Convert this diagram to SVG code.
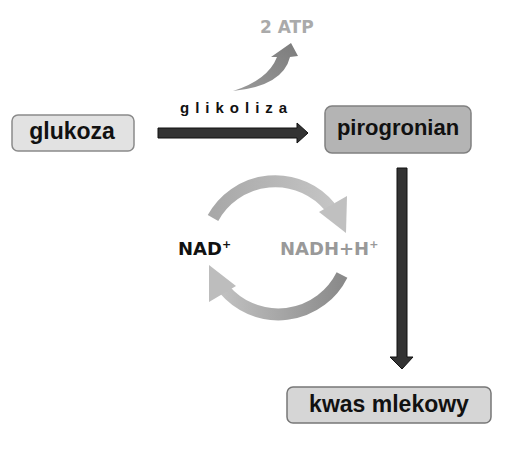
<svg xmlns="http://www.w3.org/2000/svg" width="510" height="449" viewBox="0 0 510 449">
<defs>
<style>
.box text{font-family:"Liberation Sans",Arial,sans-serif;font-weight:bold;fill:#111;text-anchor:middle}
.lbl{font-family:"Liberation Sans",Arial,sans-serif;font-weight:bold}
.wide{font-family:"DejaVu Sans",Verdana,sans-serif;font-weight:bold}
.dark{fill:#333;stroke:#111;stroke-width:1}
</style>
<linearGradient id="gTop" x1="0" y1="0" x2="1" y2="0"><stop offset="0" stop-color="#a8a8a8"/><stop offset="1" stop-color="#c4c4c4"/></linearGradient>
<linearGradient id="gBot" x1="1" y1="0" x2="0" y2="0"><stop offset="0" stop-color="#8a8a8a"/><stop offset="1" stop-color="#c0c0c0"/></linearGradient>
<linearGradient id="gAtp" x1="0" y1="1" x2="1" y2="0"><stop offset="0" stop-color="#9a9a9a"/><stop offset="1" stop-color="#7c7c7c"/></linearGradient>
</defs>
<rect width="510" height="449" fill="#fff"/>
<g id="glukoza" class="box">
<rect x="12" y="115" width="122" height="36" rx="6" fill="#e2e2e2" stroke="#8a8a8a" stroke-width="1.5"/>
<text x="72" y="139" font-size="23">glukoza</text>
</g>
<g id="pirogronian" class="box">
<rect x="325" y="106" width="146" height="47" rx="7" fill="#b4b4b4" stroke="#808080" stroke-width="1.5"/>
<text x="398" y="135" font-size="22">pirogronian</text>
</g>
<g id="kwas" class="box">
<rect x="287" y="387" width="204" height="36" rx="6" fill="#d6d6d6" stroke="#777" stroke-width="1.5"/>
<text x="389" y="412" font-size="23">kwas mlekowy</text>
</g>
<g id="atp">
<text class="wide" x="260" y="33" font-size="17" fill="#aaa">2 ATP</text>
</g>
<g id="nad">
<text class="wide" x="178" y="255" font-size="18" fill="#111">NAD<tspan font-size="11" dy="-7">+</tspan></text>
</g>
<g id="nadh">
<text class="wide" x="280" y="255" font-size="18" fill="#999">NADH+H<tspan font-size="11" dy="-7">+</tspan></text>
</g>
<g id="connectors">
<path class="dark" d="M158 128 L297 128 L297 123 L308 133 L297 143 L297 138 L158 138 Z"/>
<text class="lbl" x="180" y="113" font-size="15" fill="#111" letter-spacing="6">glikoliza</text>
<path d="M233 91 Q268 80 277 57 L271 57 L291 43 L298 56 L290 57 Q283 86 233 91 Z" fill="url(#gAtp)"/>
<path class="dark" d="M397 168 L407 168 L407 357 L413 357 L402 369 L390 357 L397 357 Z"/>
<path d="M213 218 A71 71 0 0 1 330 207" fill="none" stroke="url(#gTop)" stroke-width="12"/>
<polygon points="319,212 347,196 346,233" fill="#c0c0c0"/>
<path d="M342 275 A71 71 0 0 1 224 289" fill="none" stroke="url(#gBot)" stroke-width="12"/>
<polygon points="236,286 209,302 209,265" fill="#bdbdbd"/>
</g>
</svg>
